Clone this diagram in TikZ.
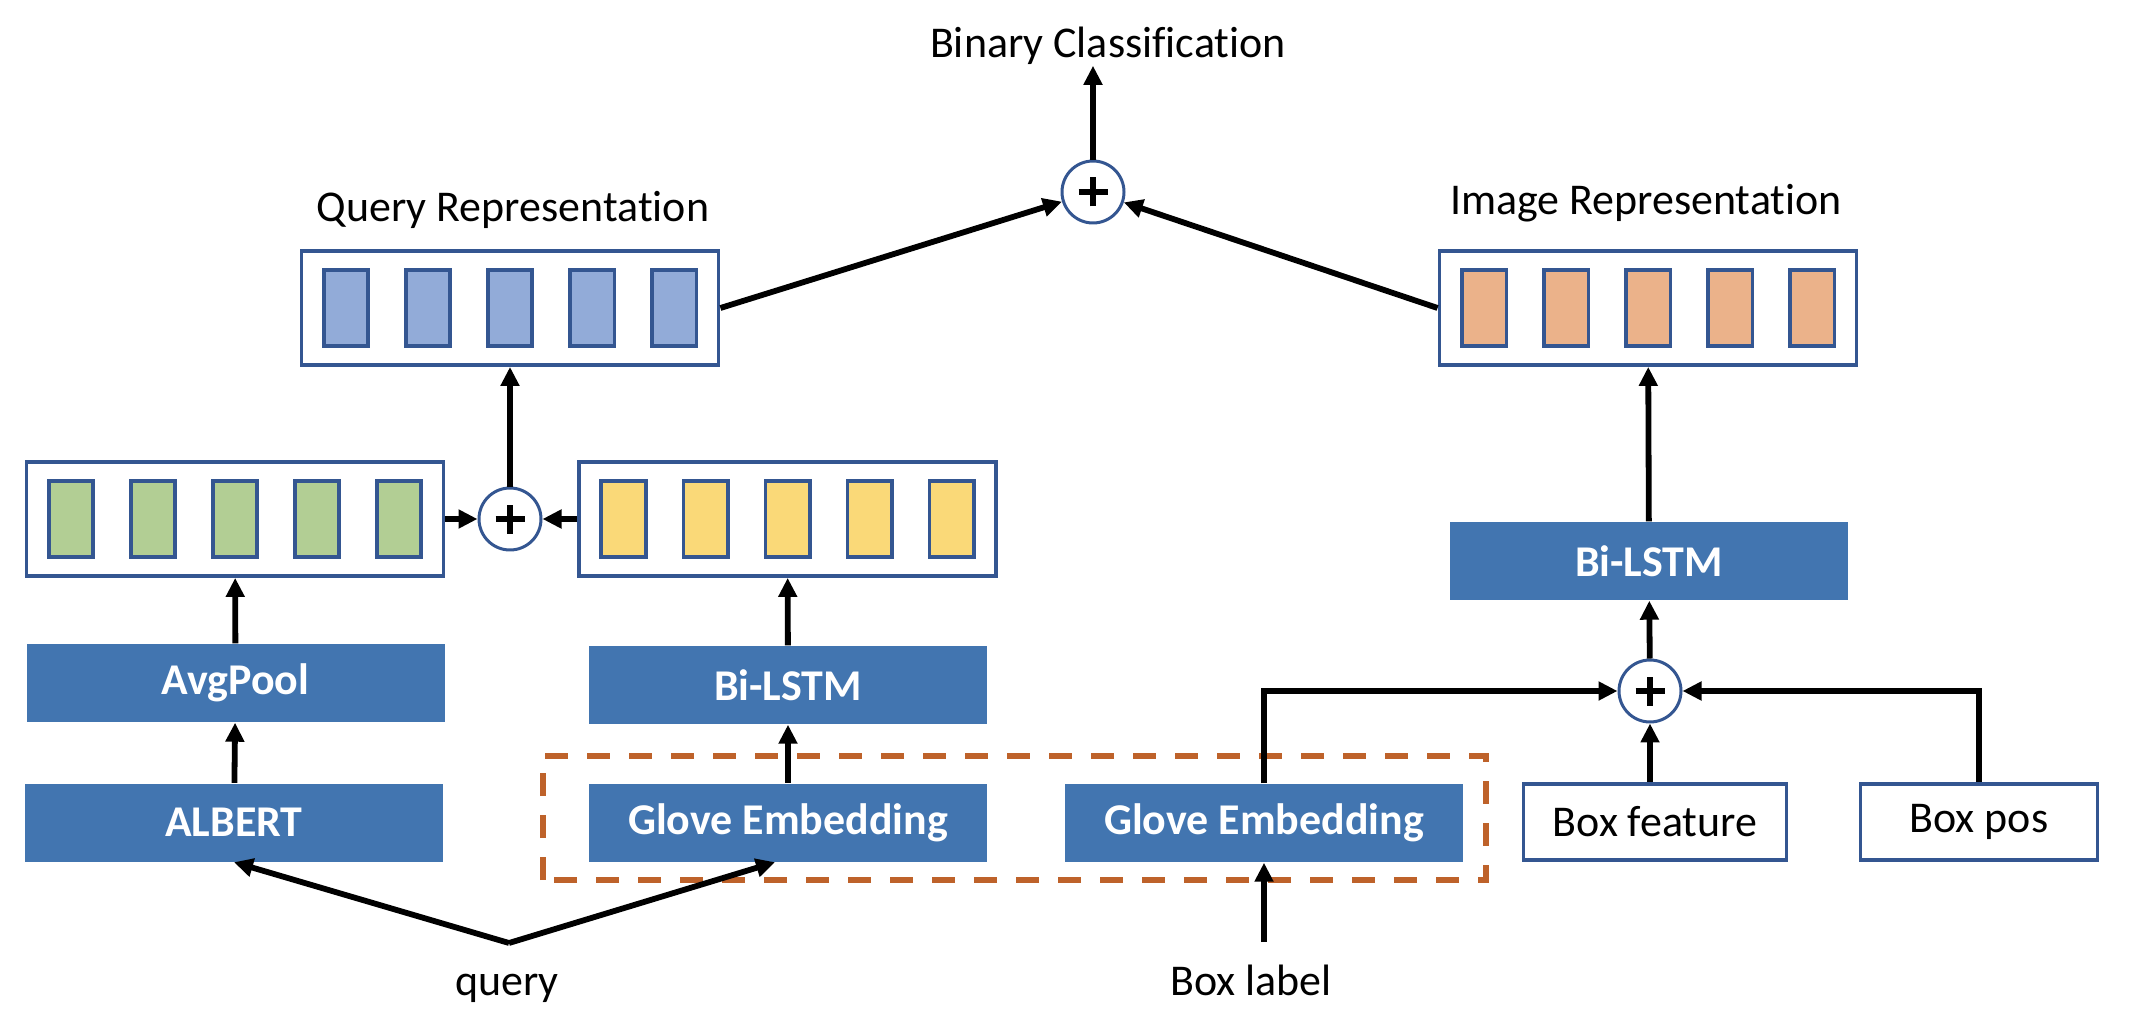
\documentclass[tikz,border=0pt]{standalone}
\usepackage{fontspec}
\setmainfont{Carlito}[Ligatures={NoCommon}]
\usepackage{tikz}
\usetikzlibrary{arrows.meta}
\definecolor{boxline}{RGB}{52,86,145}
\definecolor{blockblue}{RGB}{66,117,176}
\definecolor{cellblue}{RGB}{146,171,216}
\definecolor{cellgreen}{RGB}{178,206,148}
\definecolor{cellyellow}{RGB}{250,217,120}
\definecolor{cellorange}{RGB}{235,178,138}
\definecolor{dashorange}{RGB}{190,98,42}
\tikzset{
	%	block/.style={rectangle,draw,minimum size=1.5em},
	block/.style={rectangle,fill=blockblue,text=white,font=\bfseries,minimum height=7.8mm,inner sep=0pt},
	inbox/.style={rectangle,draw=boxline,line width=1.1pt,fill=white,minimum height=7.6mm,inner sep=0pt},
	vecbox/.style={rectangle,draw=boxline,line width=1.1pt,fill=white,minimum width=4.17cm,minimum height=1.14cm,inner sep=0pt},
	cell/.style={rectangle,draw=boxline,line width=1pt,minimum width=4.45mm,minimum height=7.55mm,inner sep=0pt},
	sum/.style={circle,draw=boxline,line width=0.85pt,fill=white,minimum size=6.2mm,inner sep=0pt,
		path picture={\draw[line width=1.5pt,black]
			([xshift=-1.45mm]path picture bounding box.center) -- ([xshift=1.45mm]path picture bounding box.center)
			([yshift=-1.45mm]path picture bounding box.center) -- ([yshift=1.45mm]path picture bounding box.center);}},
	txt/.style={inner sep=0pt,anchor=base},
	flow/.style={-{Triangle[length=1.9mm,width=1.8mm]},line width=1.65pt}
}
\begin{document}
\fontsize{12.5}{15}\selectfont
\begin{tikzpicture}
	\useasboundingbox (0,0) rectangle (21.3,10.24);
	
	\draw[dashorange,line width=1.6pt,dash pattern=on 2.3mm off 1.9mm] (5.43,1.44) rectangle (14.86,2.68);
	
	\node[txt] (bc) at (11.08,9.66) {Binary Classification};
	\node[sum] (p1) at (10.93,8.32) {};
	
	\node[txt] (qlab) at (5.13,8.02) {Query Representation};
	\node[vecbox] (qrep) at (5.10,7.16) {};
	\foreach \i in {1,...,5}
		\node[cell,fill=cellblue] (qrep\i) at ([xshift=(\i-3)*8.2mm]qrep.center) {};
	
	\node[txt] (ilab) at (16.46,8.09) {Image Representation};
	\node[vecbox] (irep) at (16.48,7.16) {};
	\foreach \i in {1,...,5}
		\node[cell,fill=cellorange] (irep\i) at ([xshift=(\i-3)*8.2mm]irep.center) {};
	
	\node[vecbox] (avg) at (2.35,5.05) {};
	\foreach \i in {1,...,5}
		\node[cell,fill=cellgreen] (avg\i) at ([xshift=(\i-3)*8.2mm]avg.center) {};
	\node[sum] (p2) at (5.10,5.05) {};
	\node[vecbox] (lstm) at (7.875,5.05) {};
	\foreach \i in {1,...,5}
		\node[cell,fill=cellyellow] (lstm\i) at ([xshift=(\i-3)*8.2mm]lstm.center) {};
	
	\node[block,minimum width=4.18cm] (pool) at (2.355,3.41) {AvgPool};
	\node[block,minimum width=4.18cm] (albert) at (2.34,2.015) {ALBERT};
	\node[block,minimum width=3.98cm] (bilstm1) at (7.88,3.39) {Bi-LSTM};
	\node[block,minimum width=3.98cm] (glove1) at (7.88,2.015) {Glove Embedding};
	\node[block,minimum width=3.98cm] (glove2) at (12.64,2.01) {Glove Embedding};
	
	\node[block,minimum width=3.98cm] (bilstm2) at (16.49,4.63) {Bi-LSTM};
	\node[sum] (p3) at (16.50,3.33) {};
	\node[inbox,minimum width=2.63cm] (feat) at (16.55,2.02) {Box feature};
	\node[inbox,minimum width=2.37cm] (pos) at (19.79,2.02) {Box pos};
	
	\node[txt] (query) at (5.07,0.29) {query};
	\coordinate (qv) at (5.09,0.81);
	\node[txt] (blab) at (12.51,0.29) {Box label};
	\coordinate (bv) at (12.64,0.82);
	
	\draw[flow] (p1) -- (p1 |- bc.south);
	\draw[flow] (qrep.east) -- (p1);
	\draw[flow] (irep.west) -- (p1);
	
	\draw[flow] (p2) -- (qrep);
	\draw[flow] (avg.east) -- (p2);
	\draw[flow] (lstm.west) -- (p2);
	\draw[flow] (pool) -- (avg);
	\draw[flow] (albert) -- (pool);
	\draw[flow] (bilstm1) -- (lstm);
	\draw[flow] (glove1) -- (bilstm1);
	\draw[flow] (qv) -- (albert.south);
	\draw[flow] (qv) -- ([xshift=-1.3mm]glove1.south);
	
	\draw[flow] (bv) -- (glove2.south);
	\draw[flow] (glove2.north) |- (p3);
	\draw[flow] (pos.north) |- (p3);
	\draw[flow] (p3 |- feat.north) -- (p3);
	\draw[flow] (p3) -- (bilstm2);
	\draw[flow] (bilstm2) -- (irep);
\end{tikzpicture}
\end{document}
